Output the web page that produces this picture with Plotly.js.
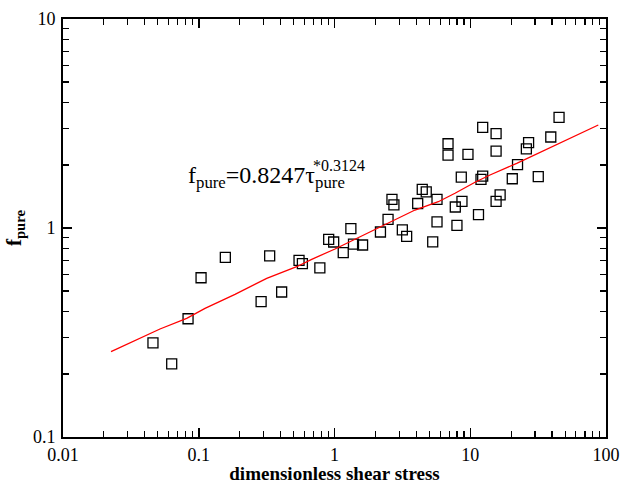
<!DOCTYPE html>
<html>
<head>
<meta charset="utf-8">
<script src="https://cdn.plot.ly/plotly-3.0.1.min.js"></script>
<style>html,body{margin:0;padding:0;background:#fff;}#chart{width:623px;height:484px;}</style>
</head>
<body>
<div id="chart"></div>
<script>
// Measured data (dimensionless shear stress vs f_pure)
const tauData = [0.046, 0.0632, 0.0834, 0.104, 0.157, 0.288, 0.333, 0.408, 0.548, 0.58,
  0.78, 0.906, 0.986, 1.16, 1.32, 1.38, 1.61, 2.18, 2.48, 2.65,
  2.74, 3.16, 3.4, 4.10, 4.43, 4.74, 5.29, 5.69, 5.69, 6.86,
  6.86, 7.76, 7.98, 8.59, 8.69, 9.62, 11.5, 12.0, 12.35, 12.35,
  15.5, 15.5, 15.5, 16.6, 20.4, 22.3, 25.9, 26.9, 31.7, 39.2, 45.1];
const fData = [0.282, 0.224, 0.368, 0.578, 0.724, 0.444, 0.735, 0.494, 0.700, 0.675,
  0.645, 0.883, 0.857, 0.762, 0.993, 0.838, 0.829, 0.957, 1.10, 1.37,
  1.29, 0.98, 0.912, 1.31, 1.53, 1.49, 0.859, 1.37, 1.07, 2.53,
  2.23, 1.26, 1.03, 1.75, 1.34, 2.25, 1.16, 1.71, 1.77, 3.03,
  2.83, 2.33, 1.34, 1.44, 1.72, 2.01, 2.39, 2.56, 1.76, 2.725, 3.38];

// Fitted curve as drawn
const fitTau = [0.02258, 0.0349, 0.0518, 0.0815, 0.1112, 0.1849, 0.3167, 0.5266, 0.6793, 1.0085,
  2.288, 3.917, 5.815, 7.721, 10.84, 13.98, 21.99, 37.58, 87.76];
const fitF = [0.2559, 0.2911, 0.3287, 0.3697, 0.4127, 0.4817, 0.5744, 0.6528, 0.7083, 0.7935,
  1.034, 1.219, 1.336, 1.466, 1.655, 1.793, 2.040, 2.406, 3.111];

const xTickVals = [0.01, 0.1, 1, 10, 100];
const xTickText = ['0.01', '0.1', '1', '10', '100'];
const yTickVals = [0.1, 1, 10];
const yTickText = ['0.1', '1', '10'];
const minorMultipliers = [2, 3, 4, 5, 6, 7, 8, 9];

function minorTicks(decades) {
  const out = [];
  decades.forEach(d => minorMultipliers.forEach(m => out.push(m * d)));
  return out;
}

const serif = 'Liberation Serif, Times New Roman, serif';

const traces = [
  {
    x: tauData, y: fData, type: 'scatter', mode: 'markers',
    marker: {symbol: 'square-open', size: 10, color: '#000', line: {width: 1.3, color: '#111'}},
    showlegend: false, hoverinfo: 'x+y'
  },
  {
    x: fitTau, y: fitF, type: 'scatter', mode: 'lines',
    line: {color: '#ff0000', width: 1.3},
    showlegend: false
  }
];

const axisCommon = {
  type: 'log',
  showgrid: false, zeroline: false,
  showline: true, linecolor: '#000', linewidth: 2,
  mirror: 'ticks',
  ticks: 'inside', ticklen: 9, tickwidth: 1.5, tickcolor: '#000',
  tickfont: {family: serif, size: 18, color: '#000'}
};

const layout = {
  width: 623, height: 484,
  margin: {l: 63, r: 17, t: 19, b: 47},
  paper_bgcolor: '#fff', plot_bgcolor: '#fff',
  xaxis: Object.assign({}, axisCommon, {
    range: [-2, 2],
    tickvals: xTickVals, ticktext: xTickText,
    minor: {tickvals: minorTicks([0.01, 0.1, 1, 10]), ticks: 'inside', ticklen: 6, tickwidth: 1.2, tickcolor: '#000', showgrid: false},
    ticklabelstandoff: 0,
    title: {text: '<b>dimensionless shear stress</b>', font: {family: serif, size: 19, color: '#000'}, standoff: 3}
  }),
  yaxis: Object.assign({}, axisCommon, {
    range: [-1, 1],
    tickvals: yTickVals, ticktext: yTickText,
    minor: {tickvals: minorTicks([0.1, 1]), ticks: 'inside', ticklen: 6, tickwidth: 1.2, tickcolor: '#000', showgrid: false},
    ticklabelstandoff: 2,
    title: {text: '<b>f<sub>pure</sub></b>', font: {family: serif, size: 21, color: '#000'}, standoff: 6}
  }),
  annotations: [
    {
      xref: 'paper', yref: 'paper',
      x: (186 - 63) / 543, y: (437 - 177) / 418,
      xanchor: 'left', yanchor: 'middle', showarrow: false,
      text: 'f<sub>pure</sub>=0.8247τ<sub>pure</sub>',
      font: {family: serif, size: 24, color: '#000'}
    },
    {
      xref: 'paper', yref: 'paper',
      x: (311 - 63) / 543, y: (437 - 165) / 418,
      xanchor: 'left', yanchor: 'middle', showarrow: false,
      text: '*0.3124',
      font: {family: serif, size: 16, color: '#000'}
    }
  ]
};

Plotly.newPlot('chart', traces, layout, {displayModeBar: false, staticPlot: true});
</script>
</body>
</html>
